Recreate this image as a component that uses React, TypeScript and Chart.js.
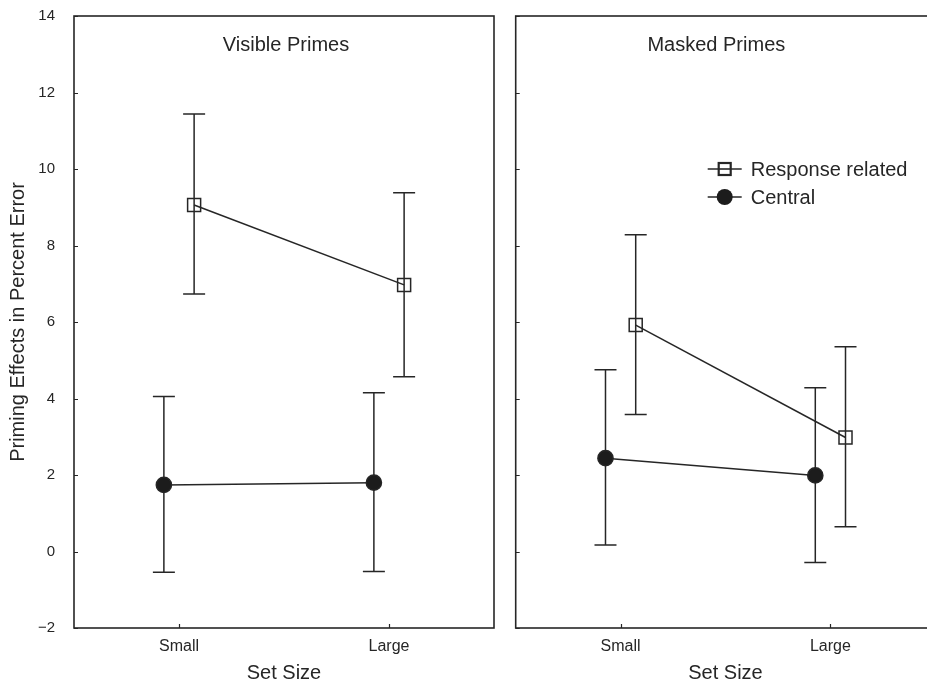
import React, { useEffect, useRef } from 'react';
import { Chart, registerables } from 'chart.js';

Chart.register(...registerables);

// ---------- data ----------
const categories = ['Small', 'Large'];
const yTickValues = [-2, 0, 2, 4, 6, 8, 10, 12, 14];
const seriesNames = ['Response related', 'Central'];
const panelTitles = ['Visible Primes', 'Masked Primes'];
const xAxisTitle = 'Set Size';
const yAxisTitle = 'Priming Effects in Percent Error';

const visibleResponseMean = [9.06, 6.97];
const visibleResponseUpper = [11.44, 9.38];
const visibleResponseLower = [6.73, 4.57];
const visibleCentralMean = [1.74, 1.8];
const visibleCentralUpper = [4.05, 4.15];
const visibleCentralLower = [-0.54, -0.52];

const maskedResponseMean = [5.92, 2.98];
const maskedResponseUpper = [8.28, 5.35];
const maskedResponseLower = [3.58, 0.65];
const maskedCentralMean = [2.44, 1.99];
const maskedCentralUpper = [4.75, 4.28];
const maskedCentralLower = [0.17, -0.29];

// horizontal dodge of each series around its category (in category units)
const responseDodge = 0.072;
const centralDodge = -0.072;

// ---------- style ----------
const INK = '#262626';
const FONT = "'Liberation Sans', Arial, Helvetica, sans-serif";

function makeDataset(label: string, mean: number[], upper: number[], lower: number[], dodge: number, kind: 'square' | 'dot') {
  return {
    label,
    data: categories.map((_, i) => ({ x: i + 1 + dodge, y: mean[i] })),
    errUpper: upper,
    errLower: lower,
    borderColor: INK,
    borderWidth: 1.5,
    pointStyle: kind === 'square' ? 'rect' : 'circle',
    pointRadius: kind === 'square' ? 9.2 : 7.6,
    pointBorderWidth: 1.5,
    pointBorderColor: INK,
    pointBackgroundColor: kind === 'square' ? 'rgba(0,0,0,0)' : '#1c1c1c',
    markerKind: kind,
    showLine: true,
    fill: false,
    tension: 0,
  };
}

const errorBarPlugin = {
  id: 'errorBars',
  beforeDatasetsDraw(chart: any) {
    const { ctx } = chart;
    const x = chart.scales.x;
    const y = chart.scales.y;
    ctx.save();
    ctx.strokeStyle = INK;
    ctx.lineWidth = 1.5;
    chart.data.datasets.forEach((ds: any) => {
      ds.data.forEach((p: any, i: number) => {
        const px = x.getPixelForValue(p.x);
        const yt = y.getPixelForValue(ds.errUpper[i]);
        const yb = y.getPixelForValue(ds.errLower[i]);
        ctx.beginPath();
        ctx.moveTo(px, yt);
        ctx.lineTo(px, yb);
        ctx.moveTo(px - 11, yt);
        ctx.lineTo(px + 11, yt);
        ctx.moveTo(px - 11, yb);
        ctx.lineTo(px + 11, yb);
        ctx.stroke();
      });
    });
    ctx.restore();
  },
};

const framePlugin = {
  id: 'panelDecor',
  afterDraw(chart: any, _args: any, opts: any) {
    const { ctx, chartArea } = chart;
    const { left, right, top, bottom } = chartArea;
    const x = chart.scales.x;
    const y = chart.scales.y;
    ctx.save();
    ctx.strokeStyle = INK;
    ctx.lineWidth = 1.6;
    ctx.strokeRect(left, top, right - left, bottom - top);
    // inward ticks
    ctx.lineWidth = 1.2;
    ctx.beginPath();
    yTickValues.forEach((v) => {
      const py = Math.round(y.getPixelForValue(v)) + 0.5;
      ctx.moveTo(left, py);
      ctx.lineTo(left + 4, py);
    });
    categories.forEach((_, i) => {
      const px = Math.round(x.getPixelForValue(i + 1)) + 0.5;
      ctx.moveTo(px, bottom);
      ctx.lineTo(px, bottom - 4);
    });
    ctx.stroke();

    // panel title
    const visRight = Math.min(right, opts.visibleWidth ?? chart.width);
    ctx.fillStyle = INK;
    ctx.font = `${opts.titleSize}px ${FONT}`;
    ctx.textAlign = 'center';
    ctx.textBaseline = 'middle';
    ctx.fillText(opts.title, (left + visRight) / 2 + (opts.titleShift || 0), top + 29);

    // legend
    if (opts.showLegend) {
      const lx = left + 192;
      const rows = [top + 153, top + 181];
      chart.data.datasets.forEach((ds: any, i: number) => {
        const ry = rows[i];
        ctx.strokeStyle = INK;
        ctx.lineWidth = 1.6;
        ctx.beginPath();
        ctx.moveTo(lx, ry);
        ctx.lineTo(lx + 34, ry);
        ctx.stroke();
        const cx = lx + 17;
        if (ds.markerKind === 'square') {
          ctx.fillStyle = '#fff';
          ctx.fillRect(cx - 6, ry - 6, 12, 12);
          ctx.lineWidth = 2.2;
          ctx.strokeRect(cx - 6, ry - 6, 12, 12);
          ctx.beginPath();
          ctx.lineWidth = 1.6;
          ctx.moveTo(cx - 6, ry);
          ctx.lineTo(cx + 6, ry);
          ctx.stroke();
        } else {
          ctx.fillStyle = '#1c1c1c';
          ctx.beginPath();
          ctx.arc(cx, ry, 8, 0, Math.PI * 2);
          ctx.fill();
        }
        ctx.fillStyle = INK;
        ctx.font = `20px ${FONT}`;
        ctx.textAlign = 'left';
        ctx.textBaseline = 'middle';
        ctx.fillText(ds.label, lx + 43, ry + 1);
      });
    }
    ctx.restore();
  },
};

type PanelProps = {
  datasets: any[];
  title: string;
  titleSize: number;
  titleShift: number;
  showYLabels: boolean;
  showLegend: boolean;
  left: number;
  width: number;
  yAxisWidth: number;
  padTop: number;
  padRight: number;
  visibleWidth: number;
};

function zeroPadding(s: any) {
  s.paddingTop = 0;
  s.paddingBottom = 0;
  s.paddingLeft = 0;
  s.paddingRight = 0;
}

function Panel(props: PanelProps) {
  const ref = useRef<HTMLCanvasElement | null>(null);
  useEffect(() => {
    if (!ref.current) return;
    const chart = new Chart(ref.current, {
      type: 'line',
      data: { datasets: props.datasets as any },
      plugins: [errorBarPlugin, framePlugin],
      options: {
        responsive: false,
        animation: false,
        layout: { padding: { top: props.padTop, right: props.padRight, left: 0, bottom: 0 } },
        plugins: {
          legend: { display: false },
          tooltip: { enabled: false },
          panelDecor: {
            title: props.title,
            titleSize: props.titleSize,
            titleShift: props.titleShift,
            showLegend: props.showLegend,
            visibleWidth: props.visibleWidth,
          },
        } as any,
        scales: {
          x: {
            type: 'linear',
            min: 0.5,
            max: 2.5,
            afterBuildTicks: (s: any) => {
              s.ticks = categories.map((_, i) => ({ value: i + 1 }));
            },
            ticks: {
              callback: (v: any) => categories[Math.round(v) - 1] ?? '',
              font: { family: FONT, size: 16 },
              color: INK,
              padding: 9,
              autoSkip: false,
              maxRotation: 0,
            },
            grid: { display: false, drawTicks: false },
            border: { display: false },
            title: { display: true, text: xAxisTitle, font: { family: FONT, size: 20 }, color: INK, padding: 0 },
            afterFit: (s: any) => {
              s.height = 57;
              zeroPadding(s);
            },
          },
          y: {
            type: 'linear',
            min: -2,
            max: 14,
            afterBuildTicks: (s: any) => {
              s.ticks = yTickValues.map((v) => ({ value: v }));
            },
            ticks: {
              display: props.showYLabels,
              font: { family: FONT, size: 15 },
              color: INK,
              padding: 19,
              callback: (v: any) => (v < 0 ? '\u2212' + Math.abs(v) : String(v)),
            },
            grid: { display: false, drawTicks: false },
            border: { display: false },
            title: {
              display: props.showYLabels,
              text: yAxisTitle,
              font: { family: FONT, size: 20 },
              color: INK,
              padding: { top: 6, bottom: 0 },
            },
            afterFit: (s: any) => {
              s.width = props.yAxisWidth;
              zeroPadding(s);
            },
          },
        },
      } as any,
    });
    return () => chart.destroy();
  }, []);
  return (
    <canvas
      ref={ref}
      width={props.width}
      height={685}
      style={{ position: 'absolute', left: props.left, top: 0, width: props.width, height: 685 }}
    />
  );
}

export default function App() {
  const visibleSets = [
    makeDataset(seriesNames[0], visibleResponseMean, visibleResponseUpper, visibleResponseLower, responseDodge, 'square'),
    makeDataset(seriesNames[1], visibleCentralMean, visibleCentralUpper, visibleCentralLower, centralDodge, 'dot'),
  ];
  const maskedSets = [
    makeDataset(seriesNames[0], maskedResponseMean, maskedResponseUpper, maskedResponseLower, responseDodge, 'square'),
    makeDataset(seriesNames[1], maskedCentralMean, maskedCentralUpper, maskedCentralLower, centralDodge, 'dot'),
  ];
  return (
    <div
      style={{
        position: 'absolute',
        left: 0,
        top: 0,
        width: 927,
        height: 685,
        overflow: 'hidden',
        background: '#fff',
      }}
    >
      <Panel
        datasets={visibleSets}
        title={panelTitles[0]}
        titleSize={20}
        titleShift={2}
        showYLabels={true}
        showLegend={false}
        left={0}
        width={505}
        yAxisWidth={74}
        padTop={16}
        padRight={11}
        visibleWidth={505}
      />
      <Panel
        datasets={maskedSets}
        title={panelTitles[1]}
        titleSize={20}
        titleShift={-5}
        showYLabels={false}
        showLegend={true}
        left={505}
        width={441}
        yAxisWidth={10}
        padTop={16}
        padRight={0}
        visibleWidth={422}
      />
    </div>
  );
}
